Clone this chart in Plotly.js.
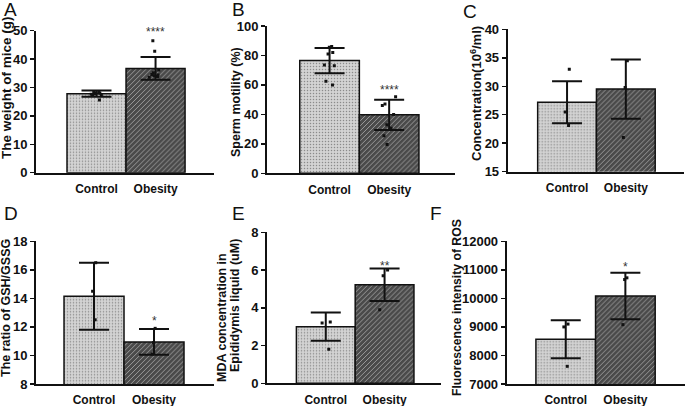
<!DOCTYPE html>
<html>
<head>
<meta charset="utf-8">
<script src="https://cdn.plot.ly/plotly-3.0.1.min.js"></script>
<style>html,body{margin:0;padding:0;background:#fff;}#chart{width:685px;height:406px;}</style>
</head>
<body>
<div id="chart"></div>
<script>
// ---- data ----
const categories = ['Control', 'Obesity'];

const weightMean = [27.8, 36.7];
const weightSD = [1.1, 4.0];
const weightControl = [28.6, 28.3, 28.0, 27.8, 27.6, 27.4, 27.2, 28.1, 25.6];
const weightObesity = [46.5, 42.8, 36.2, 35.2, 34.6, 34.1, 33.9, 33.6, 34.4];

const motilityMean = [76.5, 39.7];
const motilitySD = [8.5, 10.3];
const motilityControl = [86, 85.5, 82, 81, 73.5, 73, 62.5, 60];
const motilityObesity = [52, 47, 46, 40, 33, 30.5, 25.5, 19.5];

const concMean = [27.2, 29.5];
const concSD = [3.7, 5.2];
const concControl = [33, 25.5, 23.1];
const concObesity = [34.5, 29.8, 21];

const gshMean = [14.15, 10.95];
const gshSD = [2.35, 0.9];
const gshControl = [16.5, 14.5, 12.5];
const gshObesity = [11.9, 10.9, 10.1];

const mdaMean = [3.0, 5.22];
const mdaSD = [0.75, 0.86];
const mdaControl = [3.25, 3.2, 1.8];
const mdaObesity = [6.0, 5.7, 3.9];

const rosMean = [8570, 10080];
const rosSD = [665, 815];
const rosControl = [9100, 9000, 7620];
const rosObesity = [10720, 10660, 9080];

const starText = ['****', '****', '', '*', '**', '*'];
const starY = [50, 58.4, null, 12.65, 6.39, 11205];

const panelLetters = ['A', 'B', 'C', 'D', 'E', 'F'];
const yTitles = ['The weight of mice (g)', 'Sperm motility (%)', 'Concentration(10<sup>6</sup>/ml)',
                 'The ratio of GSH/GSSG', 'MDA concentration in', 'Fluorescence intensity of ROS'];
const yTitle5b = 'Epididymis liquid (uM)';

// ---- build ----
const W = 685, H = 406;
const px = v => v / W;
const py = v => 1 - v / H;

const panels = [
  {mean: weightMean, sd: weightSD, c: weightControl, o: weightObesity,
   xd: [36, 214], yd: [172.7, 30.7], xr: [-1.025, 1.99], yr: [0, 50], dt: 10, jit: 0.6, sy: -1.5},
  {mean: motilityMean, sd: motilitySD, c: motilityControl, o: motilityObesity,
   xd: [267, 454.7], yd: [173.3, 26], xr: [-1.05, 2.1], yr: [0, 100], dt: 20, jit: 0.5, sy: -3},
  {mean: concMean, sd: concSD, c: concControl, o: concObesity,
   xd: [507.7, 684], yd: [171.7, 29.3], xr: [-1.01, 1.99], yr: [15, 40], dt: 5, jit: 0.2, sy: -3},
  {mean: gshMean, sd: gshSD, c: gshControl, o: gshObesity,
   xd: [36, 214], yd: [384, 241.3], xr: [-0.967, 2.0], yr: [8, 18], dt: 2, jit: 0.15, sy: -3},
  {mean: mdaMean, sd: mdaSD, c: mdaControl, o: mdaObesity,
   xd: [267, 441], yd: [383.3, 232.3], xr: [-1.0, 1.96], yr: [0, 8], dt: 2, jit: 0.4, sy: -3},
  {mean: rosMean, sd: rosSD, c: rosControl, o: rosObesity,
   xd: [506.7, 685], yd: [384, 241.3], xr: [-0.99, 2.0], yr: [7000, 12000], dt: 1000, jit: 0.2, sy: -3}
];

const boldFont = {family: 'Liberation Sans, Arial, sans-serif', size: 13, color: '#111', weight: 'bold'};
const traces = [];
const layout = {
  width: W, height: H,
  margin: {l: 0, r: 0, t: 0, b: 0},
  paper_bgcolor: '#fff', plot_bgcolor: 'rgba(0,0,0,0)',
  showlegend: false, bargap: 0,
  annotations: []
};

panels.forEach((p, i) => {
  const n = i === 0 ? '' : String(i + 1);
  const xa = 'x' + n, ya = 'y' + n;
  traces.push({
    type: 'bar', x: categories, y: p.mean, xaxis: xa, yaxis: ya,
    marker: {
      color: ['#d3d3d3', '#4a4a4a'],
      line: {color: '#111', width: 1.5},
      pattern: {shape: ['.', '/'], fgcolor: ['#b9b9b9', '#6e6e6e'],
                size: [3, 3.5], solidity: [0.2, 0.25], fillmode: 'overlay'}
    },
    error_y: {type: 'data', array: p.sd, visible: true, color: '#111', thickness: 2, width: 15},
    hoverinfo: 'skip'
  });
  const bx = [], by = [];
  p.c.forEach(v => { bx.push(categories[0]); by.push(v); });
  p.o.forEach(v => { bx.push(categories[1]); by.push(v); });
  traces.push({
    type: 'box', x: bx, y: by, xaxis: xa, yaxis: ya,
    boxpoints: 'all', jitter: p.jit, pointpos: 0,
    marker: {color: '#111', size: 3, symbol: 'square'},
    fillcolor: 'rgba(0,0,0,0)', line: {color: 'rgba(0,0,0,0)', width: 0},
    whiskerwidth: 0, hoverinfo: 'skip'
  });
  layout['xaxis' + n] = {
    domain: [px(p.xd[0]), px(p.xd[1])], range: p.xr, anchor: ya,
    type: 'category', showline: true, linewidth: 2, linecolor: '#111',
    ticks: '', showgrid: false, zeroline: false, tickfont: {...boldFont, size: 12},
    ticklabelstandoff: 4, fixedrange: true
  };
  layout['yaxis' + n] = {
    domain: [py(p.yd[0]), py(p.yd[1])], range: p.yr, anchor: xa, dtick: p.dt, tick0: p.yr[0],
    tickformat: 'd', separatethousands: false,
    showline: true, linewidth: 2, linecolor: '#111', ticks: 'outside', ticklen: 4, tickwidth: 1.5,
    tickcolor: '#111', showgrid: false, zeroline: false, tickfont: boldFont, ticklabelstandoff: 0,
    fixedrange: true
  };
  if (starText[i]) {
    layout.annotations.push({
      xref: xa, yref: ya, x: categories[1], y: starY[i], text: starText[i], showarrow: false,
      font: {family: 'Liberation Sans, Arial, sans-serif', size: 12, color: '#333'},
      yanchor: 'middle', yshift: p.sy
    });
  }
});

const letterPos = [[2, 10], [230, 10], [461, 11], [2, 213], [230, 213], [428, 213]];
panelLetters.forEach((t, i) => {
  layout.annotations.push({
    xref: 'paper', yref: 'paper', x: px(letterPos[i][0]), y: py(letterPos[i][1]),
    xanchor: 'left', yanchor: 'middle', text: t, showarrow: false,
    font: {family: 'Liberation Sans, Arial, sans-serif', size: 19, color: '#111'}
  });
});

const titlePos = [[7, 88, 13.5], [236, 102, 12.5], [476, 94, 13], [6, 308, 12.5], [222, 318, 12.5], [457, 308, 12.2]];
yTitles.forEach((t, i) => {
  layout.annotations.push({
    xref: 'paper', yref: 'paper', x: px(titlePos[i][0]), y: py(titlePos[i][1]),
    xanchor: 'center', yanchor: 'middle', text: t, textangle: -90, showarrow: false,
    font: {...boldFont, size: titlePos[i][2]}
  });
});
layout.annotations.push({
  xref: 'paper', yref: 'paper', x: px(235), y: py(306),
  xanchor: 'center', yanchor: 'middle', text: yTitle5b, textangle: -90, showarrow: false,
  font: {...boldFont, size: 12.5}
});

Plotly.newPlot('chart', traces, layout, {staticPlot: true, displayModeBar: false});
</script>
</body>
</html>
